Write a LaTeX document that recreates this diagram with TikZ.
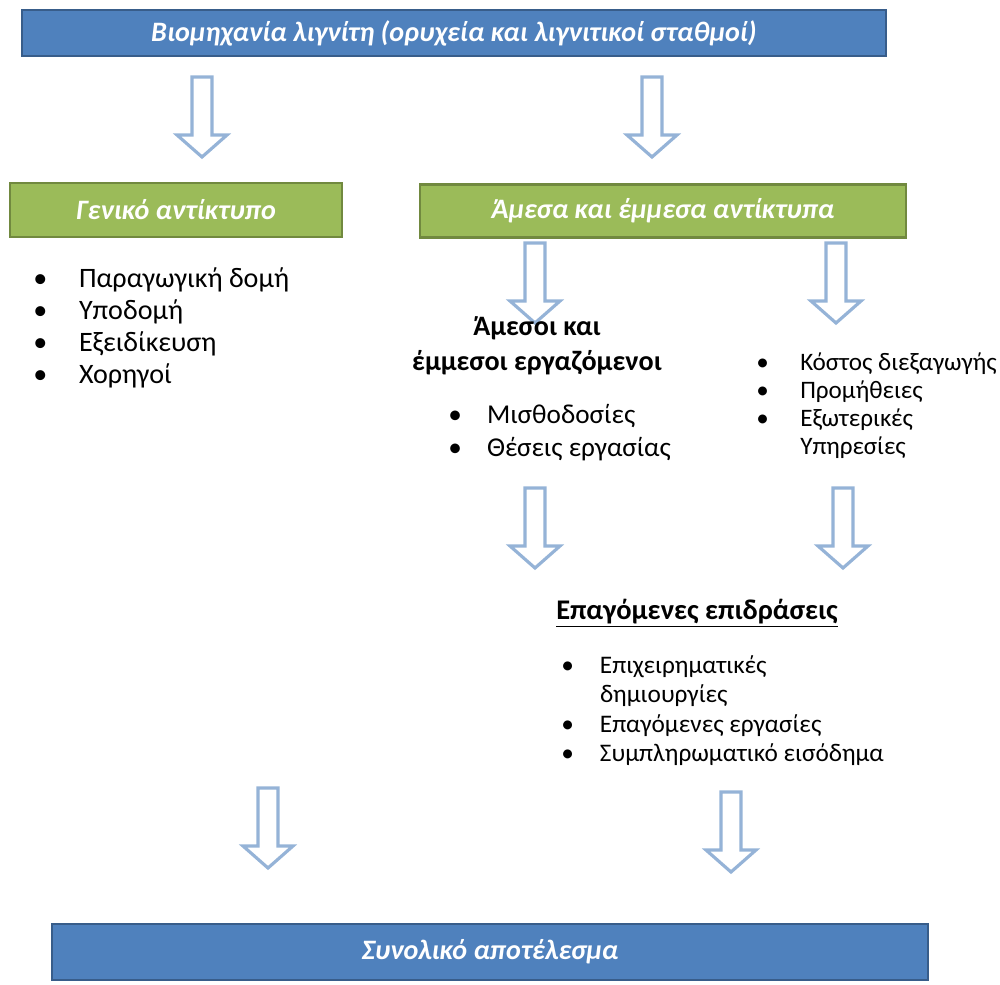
\documentclass[tikz,border=0pt]{standalone}
\usepackage{fontspec}
\setmainfont{Carlito}
\usetikzlibrary{positioning}

\definecolor{boxblue}{HTML}{4F81BD}
\definecolor{boxblueline}{HTML}{385D8A}
\definecolor{boxgreen}{HTML}{9BBB59}
\definecolor{boxgreenline}{HTML}{71893F}
\definecolor{arrowblue}{HTML}{95B3D7}

\tikzset{
  bluebox/.style={draw=boxblueline, fill=boxblue, line width=1.2pt, text=white,
    font=\fontsize{16}{19}\selectfont\bfseries\itshape},
  greenbox/.style={draw=boxgreenline, fill=boxgreen, line width=1.6pt, text=white,
    font=\fontsize{16}{19}\selectfont\bfseries\itshape},
  listtext/.style={anchor=north west, inner sep=0pt, align=left},
  blockarrow/.style={draw=arrowblue, line width=1.8pt, fill=white, line join=miter}
}

\begin{document}
\begin{tikzpicture}[x=0.02cm, y=-0.02cm]
  \useasboundingbox (0,0) rectangle (1000,984);

  % boxes
  \node[bluebox, minimum width=17.28cm, minimum height=0.92cm] (industry) at (454,33)
    {Βιομηχανία λιγνίτη (ορυχεία και λιγνιτικοί σταθμοί)};
  \node[greenbox, minimum width=6.64cm, minimum height=1.08cm] (general) at (176,210)
    {Γενικό αντίκτυπο};
  \node[greenbox, minimum width=9.72cm, minimum height=1.06cm] (direct) at (663,211)
    {Άμεσα και έμμεσα αντίκτυπα};
  \node[bluebox, minimum width=17.52cm, minimum height=1.12cm] (total) at (490,952)
    {Συνολικό αποτέλεσμα};

  % arrows
  \foreach \ax/\ay in {202/77, 652/77, 535/243, 836/243, 535/488, 843/488, 268/788, 731/792}
    \draw[blockarrow] (\ax,\ay) ++(-10,0) -- ++(0,58) -- ++(-15,0) -- ++(25,22)
      -- ++(25,-22) -- ++(-15,0) -- ++(0,-58) -- cycle;

  % texts
  \node[listtext, font=\fontsize{16}{18.2}\selectfont] (genlist) at (33,265)
    {\begin{tabular}{@{}p{26pt}@{}l@{}}
      \textbullet & Παραγωγική δομή\\
      \textbullet & Υποδομή\\
      \textbullet & Εξειδίκευση\\
      \textbullet & Χορηγοί
    \end{tabular}};
  \node[font=\fontsize{16}{19}\selectfont\bfseries, align=center, inner sep=0pt] (workers) at (537,346)
    {Άμεσοι και\\[1pt] έμμεσοι εργαζόμενοι};
  \node[listtext, font=\fontsize{15.5}{18.7}\selectfont] (worklist) at (448,400)
    {\begin{tabular}{@{}p{22pt}@{}l@{}}
      \textbullet & Μισθοδοσίες\\
      \textbullet & Θέσεις εργασίας
    \end{tabular}};
  \node[listtext, font=\fontsize{14.3}{16}\selectfont] (costlist) at (756,350)
    {\begin{tabular}{@{}p{25pt}@{}l@{}}
      \textbullet & Κόστος διεξαγωγής\\
      \textbullet & Προμήθειες\\
      \textbullet & Εξωτερικές\\
       & Υπηρεσίες
    \end{tabular}};
  \node[font=\fontsize{16.2}{19}\selectfont\bfseries, inner sep=0pt] (induced) at (697,613)
    {\underline{Επαγόμενες επιδράσεις}};
  \node[listtext, font=\fontsize{14.4}{16.8}\selectfont] (inducedlist) at (561,652)
    {\begin{tabular}{@{}p{22pt}@{}l@{}}
      \textbullet & Επιχειρηματικές\\
       & δημιουργίες\\
      \textbullet & Επαγόμενες εργασίες\\
      \textbullet & Συμπληρωματικό εισόδημα
    \end{tabular}};
\end{tikzpicture}
\end{document}
